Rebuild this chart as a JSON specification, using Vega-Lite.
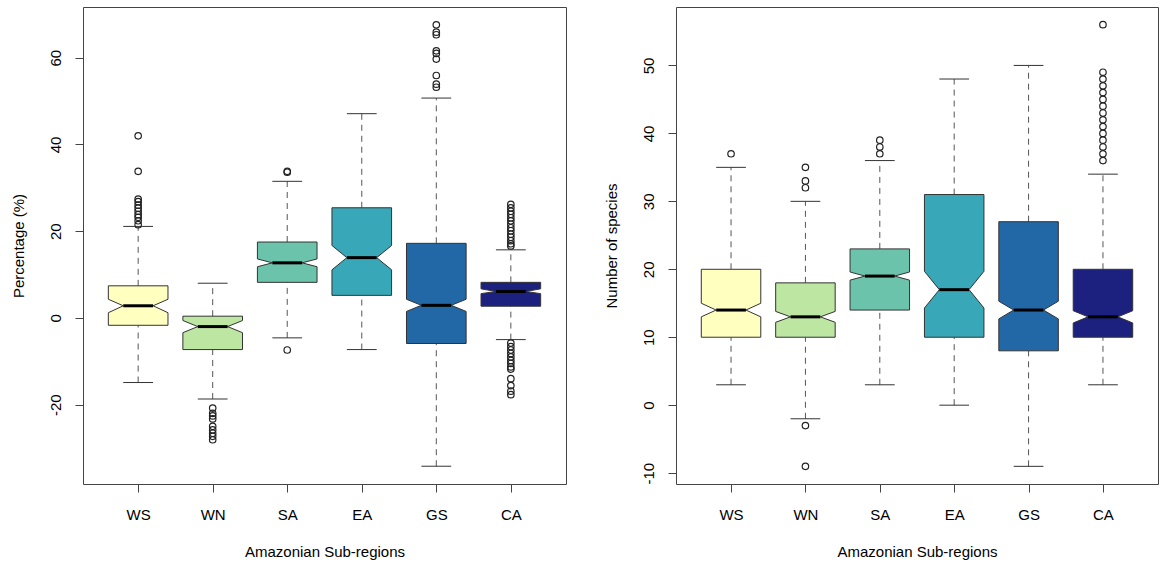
{
  "$schema": "https://vega.github.io/schema/vega-lite/v6.json",
  "padding": {"left": 10, "top": 6, "right": 4, "bottom": 0},
  "spacing": 36,
  "datasets": {
    "Lstats": [
      {"region": "WS", "lo": -14.9, "q1": -1.7, "nlo": 1.2, "med": 2.8, "nhi": 4.3, "q3": 7.4, "hi": 21.1},
      {"region": "WN", "lo": -18.7, "q1": -7.3, "nlo": -3.4, "med": -2.0, "nhi": -0.6, "q3": 0.4, "hi": 8.0},
      {"region": "SA", "lo": -4.6, "q1": 8.2, "nlo": 11.8, "med": 12.7, "nhi": 13.6, "q3": 17.5, "hi": 31.5},
      {"region": "EA", "lo": -7.3, "q1": 5.2, "nlo": 11.1, "med": 13.9, "nhi": 16.7, "q3": 25.4, "hi": 47.1},
      {"region": "GS", "lo": -34.2, "q1": -5.9, "nlo": 1.5, "med": 2.9, "nhi": 4.3, "q3": 17.2, "hi": 50.7},
      {"region": "CA", "lo": -5.0, "q1": 2.7, "nlo": 5.6, "med": 6.1, "nhi": 6.7, "q3": 8.2, "hi": 15.7}
    ],
    "Lout": [
      {"region": "WS", "value": 42.0}, {"region": "WS", "value": 33.8}, {"region": "WS", "value": 27.4},
      {"region": "WS", "value": 26.8}, {"region": "WS", "value": 26.0}, {"region": "WS", "value": 25.3},
      {"region": "WS", "value": 24.6}, {"region": "WS", "value": 23.8}, {"region": "WS", "value": 23.2},
      {"region": "WS", "value": 22.4}, {"region": "WS", "value": 21.5},
      {"region": "WN", "value": -20.8}, {"region": "WN", "value": -22.0}, {"region": "WN", "value": -22.6},
      {"region": "WN", "value": -23.3}, {"region": "WN", "value": -25.0}, {"region": "WN", "value": -25.8},
      {"region": "WN", "value": -26.6}, {"region": "WN", "value": -27.3}, {"region": "WN", "value": -28.1},
      {"region": "SA", "value": 33.6}, {"region": "SA", "value": 33.8}, {"region": "SA", "value": -7.4},
      {"region": "GS", "value": 67.6}, {"region": "GS", "value": 65.9}, {"region": "GS", "value": 65.3},
      {"region": "GS", "value": 61.6}, {"region": "GS", "value": 61.0}, {"region": "GS", "value": 59.7},
      {"region": "GS", "value": 55.9}, {"region": "GS", "value": 53.9}, {"region": "GS", "value": 53.2},
      {"region": "CA", "value": 26.2}, {"region": "CA", "value": 25.4}, {"region": "CA", "value": 24.6},
      {"region": "CA", "value": 23.9}, {"region": "CA", "value": 23.1}, {"region": "CA", "value": 22.4},
      {"region": "CA", "value": 21.6}, {"region": "CA", "value": 20.8}, {"region": "CA", "value": 20.1},
      {"region": "CA", "value": 19.3}, {"region": "CA", "value": 18.6}, {"region": "CA", "value": 17.8},
      {"region": "CA", "value": 17.1}, {"region": "CA", "value": 16.6},
      {"region": "CA", "value": -5.8}, {"region": "CA", "value": -6.6}, {"region": "CA", "value": -7.4},
      {"region": "CA", "value": -8.2}, {"region": "CA", "value": -9.0}, {"region": "CA", "value": -9.8},
      {"region": "CA", "value": -10.5}, {"region": "CA", "value": -11.3}, {"region": "CA", "value": -11.8},
      {"region": "CA", "value": -14.0}, {"region": "CA", "value": -15.6}, {"region": "CA", "value": -16.9},
      {"region": "CA", "value": -17.7}
    ],
    "Rstats": [
      {"region": "WS", "lo": 3, "q1": 10, "nlo": 13, "med": 14, "nhi": 15, "q3": 20, "hi": 35},
      {"region": "WN", "lo": -2, "q1": 10, "nlo": 12.2, "med": 13, "nhi": 13.8, "q3": 18, "hi": 30},
      {"region": "SA", "lo": 3, "q1": 14, "nlo": 18.4, "med": 19, "nhi": 19.6, "q3": 23, "hi": 36},
      {"region": "EA", "lo": 0, "q1": 10, "nlo": 14.3, "med": 17, "nhi": 19.7, "q3": 31, "hi": 48},
      {"region": "GS", "lo": -9, "q1": 8, "nlo": 12.7, "med": 14, "nhi": 15.3, "q3": 27, "hi": 50},
      {"region": "CA", "lo": 3, "q1": 10, "nlo": 12.1, "med": 13, "nhi": 13.9, "q3": 20, "hi": 34}
    ],
    "Rout": [
      {"region": "WS", "value": 37},
      {"region": "WN", "value": 35}, {"region": "WN", "value": 33}, {"region": "WN", "value": 32},
      {"region": "WN", "value": -3}, {"region": "WN", "value": -9},
      {"region": "SA", "value": 39}, {"region": "SA", "value": 38}, {"region": "SA", "value": 37},
      {"region": "CA", "value": 56}, {"region": "CA", "value": 49}, {"region": "CA", "value": 48},
      {"region": "CA", "value": 47}, {"region": "CA", "value": 46}, {"region": "CA", "value": 45},
      {"region": "CA", "value": 44}, {"region": "CA", "value": 43}, {"region": "CA", "value": 42},
      {"region": "CA", "value": 41}, {"region": "CA", "value": 40}, {"region": "CA", "value": 39},
      {"region": "CA", "value": 38}, {"region": "CA", "value": 37}, {"region": "CA", "value": 36}
    ]
  },
  "hconcat": [
    {
      "width": 483,
      "height": 477,
      "layer": [
        {
          "data": {"name": "Lstats"},
          "transform": [{"calculate": "indexof(['WS','WN','SA','EA','GS','CA'], datum.region) + 1", "as": "idx"}],
          "mark": {"type": "rule", "stroke": "#555", "strokeWidth": 1, "strokeDash": [6, 5]},
          "encoding": {
            "x": {"field": "idx", "type": "quantitative", "title": "Amazonian Sub-regions", "scale": {"domain": [0.26, 6.74], "nice": false, "zero": false},
              "axis": {"title": "Amazonian Sub-regions", "values": [1, 2, 3, 4, 5, 6], "labelExpr": "['WS','WN','SA','EA','GS','CA'][datum.value - 1]", "grid": false, "domain": false, "tickSize": 8, "labelPadding": 15, "labelFlush": false, "labelOverlap": false, "titleY": 67, "titleBaseline": "middle"}},
            "y": {"field": "q3", "type": "quantitative", "title": "Percentage (%)", "scale": {"domain": [-38.3, 71.7], "nice": false, "zero": false},
              "axis": {"title": "Percentage (%)", "values": [-20, 0, 20, 40, 60], "labelExpr": "'' + datum.value", "grid": false, "domain": false, "tickSize": 8, "labelAngle": -90, "labelAlign": "center", "labelBaseline": "middle", "labelPadding": 20, "labelOverlap": false, "titleX": -65, "titleY": 238.5, "titleAngle": -90, "titleAlign": "center", "titleBaseline": "middle"}},
            "y2": {"field": "hi"}
          }
        },
        {
          "data": {"name": "Lstats"},
          "transform": [{"calculate": "indexof(['WS','WN','SA','EA','GS','CA'], datum.region) + 1", "as": "idx"}],
          "mark": {"type": "rule", "stroke": "#555", "strokeWidth": 1, "strokeDash": [6, 5]},
          "encoding": {
            "x": {"field": "idx", "type": "quantitative", "title": "Amazonian Sub-regions", "scale": {"domain": [0.26, 6.74], "nice": false, "zero": false}},
            "y": {"field": "lo", "type": "quantitative", "title": "Percentage (%)", "scale": {"domain": [-38.3, 71.7], "nice": false, "zero": false}},
            "y2": {"field": "q1"}
          }
        },
        {
          "data": {"name": "Lstats"},
          "transform": [
            {"calculate": "indexof(['WS','WN','SA','EA','GS','CA'], datum.region) + 1", "as": "idx"},
            {"fold": ["lo", "hi"], "as": ["k", "v"]},
            {"calculate": "datum.idx - 0.2", "as": "cl"},
            {"calculate": "datum.idx + 0.2", "as": "cr"}
          ],
          "mark": {"type": "rule", "stroke": "#333", "strokeWidth": 1},
          "encoding": {
            "x": {"field": "cl", "type": "quantitative", "title": "Amazonian Sub-regions", "scale": {"domain": [0.26, 6.74], "nice": false, "zero": false}},
            "x2": {"field": "cr"},
            "y": {"field": "v", "type": "quantitative", "title": "Percentage (%)", "scale": {"domain": [-38.3, 71.7], "nice": false, "zero": false}}
          }
        },
        {
          "data": {"name": "Lstats"},
          "transform": [
            {"calculate": "indexof(['WS','WN','SA','EA','GS','CA'], datum.region) + 1", "as": "idx"},
            {"fold": ["q1", "nlo", "med", "nhi", "q3"], "as": ["part", "yv"]},
            {"calculate": "datum.part === 'med' ? 0.2 : 0.4", "as": "hw"},
            {"calculate": "datum.idx - datum.hw", "as": "xl"},
            {"calculate": "datum.idx + datum.hw", "as": "xr"}
          ],
          "mark": {"type": "area", "orient": "horizontal", "stroke": "#333", "strokeWidth": 1, "opacity": 1, "fillOpacity": 1},
          "encoding": {
            "x": {"field": "xl", "type": "quantitative", "title": "Amazonian Sub-regions", "stack": null, "scale": {"domain": [0.26, 6.74], "nice": false, "zero": false}},
            "x2": {"field": "xr"},
            "y": {"field": "yv", "type": "quantitative", "title": "Percentage (%)", "scale": {"domain": [-38.3, 71.7], "nice": false, "zero": false}},
            "color": {"field": "region", "type": "nominal", "legend": null,
              "scale": {"domain": ["WS", "WN", "SA", "EA", "GS", "CA"], "range": ["#FFFFC0", "#BDE6A3", "#6CC3AB", "#38A8B8", "#2268A6", "#1C2180"]}}
          }
        },
        {
          "data": {"name": "Lstats"},
          "transform": [
            {"calculate": "indexof(['WS','WN','SA','EA','GS','CA'], datum.region) + 1", "as": "idx"},
            {"calculate": "datum.idx - 0.2", "as": "cl"},
            {"calculate": "datum.idx + 0.2", "as": "cr"}
          ],
          "mark": {"type": "rule", "stroke": "#000", "strokeWidth": 3},
          "encoding": {
            "x": {"field": "cl", "type": "quantitative", "title": "Amazonian Sub-regions", "scale": {"domain": [0.26, 6.74], "nice": false, "zero": false}},
            "x2": {"field": "cr"},
            "y": {"field": "med", "type": "quantitative", "title": "Percentage (%)", "scale": {"domain": [-38.3, 71.7], "nice": false, "zero": false}}
          }
        },
        {
          "data": {"name": "Lout"},
          "transform": [{"calculate": "indexof(['WS','WN','SA','EA','GS','CA'], datum.region) + 1", "as": "idx"}],
          "mark": {"type": "point", "shape": "circle", "filled": false, "stroke": "#222", "strokeWidth": 1.2, "size": 42, "opacity": 1},
          "encoding": {
            "x": {"field": "idx", "type": "quantitative", "title": "Amazonian Sub-regions", "scale": {"domain": [0.26, 6.74], "nice": false, "zero": false}},
            "y": {"field": "value", "type": "quantitative", "title": "Percentage (%)", "scale": {"domain": [-38.3, 71.7], "nice": false, "zero": false}}
          }
        }
      ]
    },
    {
      "width": 482,
      "height": 477,
      "layer": [
        {
          "data": {"name": "Rstats"},
          "transform": [{"calculate": "indexof(['WS','WN','SA','EA','GS','CA'], datum.region) + 1", "as": "idx"}],
          "mark": {"type": "rule", "stroke": "#555", "strokeWidth": 1, "strokeDash": [6, 5]},
          "encoding": {
            "x": {"field": "idx", "type": "quantitative", "title": "Amazonian Sub-regions", "scale": {"domain": [0.26, 6.74], "nice": false, "zero": false},
              "axis": {"title": "Amazonian Sub-regions", "values": [1, 2, 3, 4, 5, 6], "labelExpr": "['WS','WN','SA','EA','GS','CA'][datum.value - 1]", "grid": false, "domain": false, "tickSize": 8, "labelPadding": 15, "labelFlush": false, "labelOverlap": false, "titleY": 67, "titleBaseline": "middle"}},
            "y": {"field": "q3", "type": "quantitative", "title": "Number of species", "scale": {"domain": [-11.6, 58.6], "nice": false, "zero": false},
              "axis": {"title": "Number of species", "values": [-10, 0, 10, 20, 30, 40, 50], "labelExpr": "'' + datum.value", "grid": false, "domain": false, "tickSize": 8, "labelAngle": -90, "labelAlign": "center", "labelBaseline": "middle", "labelPadding": 20, "labelOverlap": false, "titleX": -65, "titleY": 238.5, "titleAngle": -90, "titleAlign": "center", "titleBaseline": "middle"}},
            "y2": {"field": "hi"}
          }
        },
        {
          "data": {"name": "Rstats"},
          "transform": [{"calculate": "indexof(['WS','WN','SA','EA','GS','CA'], datum.region) + 1", "as": "idx"}],
          "mark": {"type": "rule", "stroke": "#555", "strokeWidth": 1, "strokeDash": [6, 5]},
          "encoding": {
            "x": {"field": "idx", "type": "quantitative", "title": "Amazonian Sub-regions", "scale": {"domain": [0.26, 6.74], "nice": false, "zero": false}},
            "y": {"field": "lo", "type": "quantitative", "title": "Number of species", "scale": {"domain": [-11.6, 58.6], "nice": false, "zero": false}},
            "y2": {"field": "q1"}
          }
        },
        {
          "data": {"name": "Rstats"},
          "transform": [
            {"calculate": "indexof(['WS','WN','SA','EA','GS','CA'], datum.region) + 1", "as": "idx"},
            {"fold": ["lo", "hi"], "as": ["k", "v"]},
            {"calculate": "datum.idx - 0.2", "as": "cl"},
            {"calculate": "datum.idx + 0.2", "as": "cr"}
          ],
          "mark": {"type": "rule", "stroke": "#333", "strokeWidth": 1},
          "encoding": {
            "x": {"field": "cl", "type": "quantitative", "title": "Amazonian Sub-regions", "scale": {"domain": [0.26, 6.74], "nice": false, "zero": false}},
            "x2": {"field": "cr"},
            "y": {"field": "v", "type": "quantitative", "title": "Number of species", "scale": {"domain": [-11.6, 58.6], "nice": false, "zero": false}}
          }
        },
        {
          "data": {"name": "Rstats"},
          "transform": [
            {"calculate": "indexof(['WS','WN','SA','EA','GS','CA'], datum.region) + 1", "as": "idx"},
            {"fold": ["q1", "nlo", "med", "nhi", "q3"], "as": ["part", "yv"]},
            {"calculate": "datum.part === 'med' ? 0.2 : 0.4", "as": "hw"},
            {"calculate": "datum.idx - datum.hw", "as": "xl"},
            {"calculate": "datum.idx + datum.hw", "as": "xr"}
          ],
          "mark": {"type": "area", "orient": "horizontal", "stroke": "#333", "strokeWidth": 1, "opacity": 1, "fillOpacity": 1},
          "encoding": {
            "x": {"field": "xl", "type": "quantitative", "title": "Amazonian Sub-regions", "stack": null, "scale": {"domain": [0.26, 6.74], "nice": false, "zero": false}},
            "x2": {"field": "xr"},
            "y": {"field": "yv", "type": "quantitative", "title": "Number of species", "scale": {"domain": [-11.6, 58.6], "nice": false, "zero": false}},
            "color": {"field": "region", "type": "nominal", "legend": null,
              "scale": {"domain": ["WS", "WN", "SA", "EA", "GS", "CA"], "range": ["#FFFFC0", "#BDE6A3", "#6CC3AB", "#38A8B8", "#2268A6", "#1C2180"]}}
          }
        },
        {
          "data": {"name": "Rstats"},
          "transform": [
            {"calculate": "indexof(['WS','WN','SA','EA','GS','CA'], datum.region) + 1", "as": "idx"},
            {"calculate": "datum.idx - 0.2", "as": "cl"},
            {"calculate": "datum.idx + 0.2", "as": "cr"}
          ],
          "mark": {"type": "rule", "stroke": "#000", "strokeWidth": 3},
          "encoding": {
            "x": {"field": "cl", "type": "quantitative", "title": "Amazonian Sub-regions", "scale": {"domain": [0.26, 6.74], "nice": false, "zero": false}},
            "x2": {"field": "cr"},
            "y": {"field": "med", "type": "quantitative", "title": "Number of species", "scale": {"domain": [-11.6, 58.6], "nice": false, "zero": false}}
          }
        },
        {
          "data": {"name": "Rout"},
          "transform": [{"calculate": "indexof(['WS','WN','SA','EA','GS','CA'], datum.region) + 1", "as": "idx"}],
          "mark": {"type": "point", "shape": "circle", "filled": false, "stroke": "#222", "strokeWidth": 1.2, "size": 42, "opacity": 1},
          "encoding": {
            "x": {"field": "idx", "type": "quantitative", "title": "Amazonian Sub-regions", "scale": {"domain": [0.26, 6.74], "nice": false, "zero": false}},
            "y": {"field": "value", "type": "quantitative", "title": "Number of species", "scale": {"domain": [-11.6, 58.6], "nice": false, "zero": false}}
          }
        }
      ]
    }
  ],
  "config": {
    "font": "Liberation Sans",
    "view": {"stroke": "#444", "strokeWidth": 1},
    "axis": {
      "labelFont": "Liberation Sans", "titleFont": "Liberation Sans",
      "labelFontSize": 15, "titleFontSize": 15, "titleFontWeight": "normal",
      "labelColor": "#000", "titleColor": "#000", "tickColor": "#444", "tickWidth": 1
    }
  }
}
